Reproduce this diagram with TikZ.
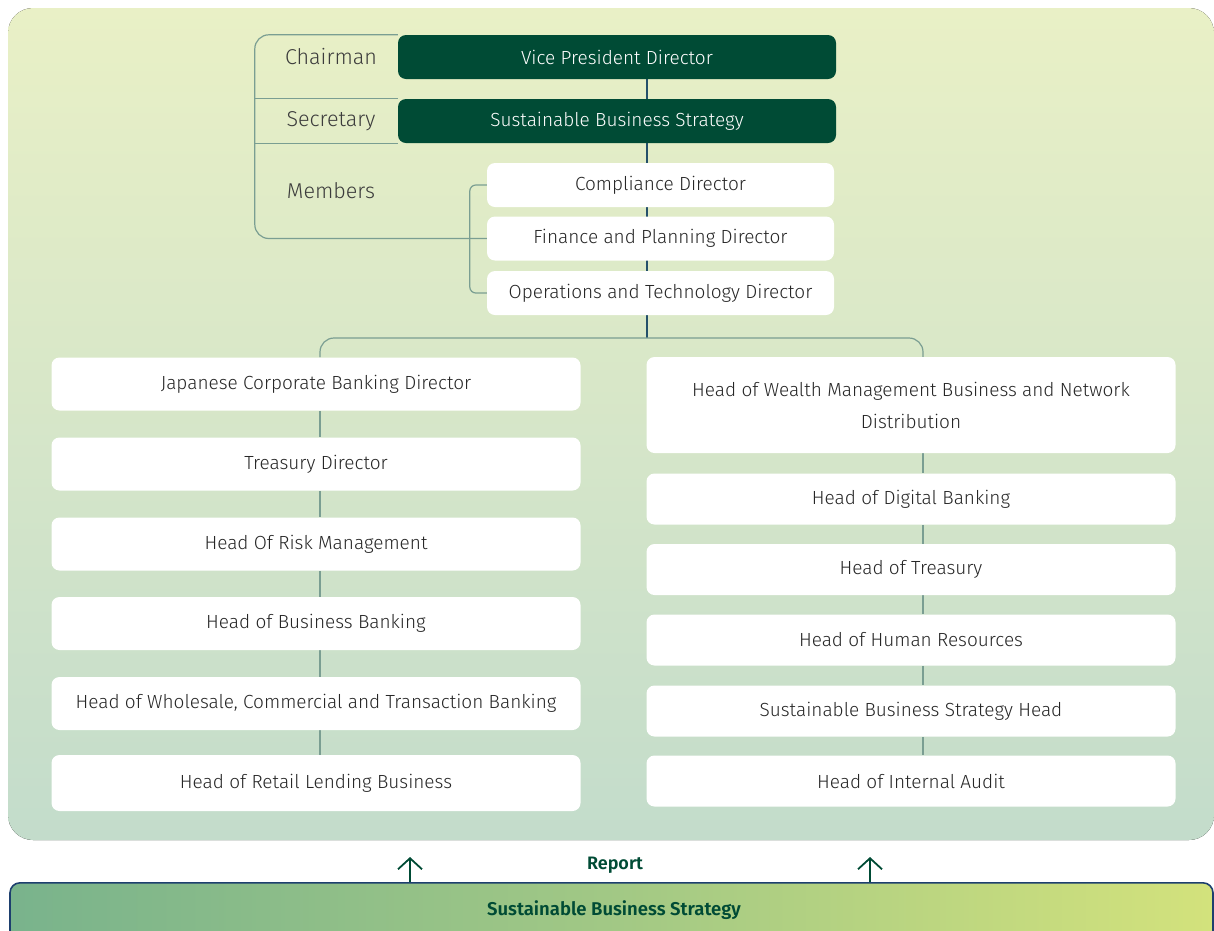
\documentclass[tikz,border=0pt]{standalone}
\usepackage{fontspec}
\setmainfont{Fira Sans}[UprightFont={* Light}, BoldFont={* SemiBold}]
\usepackage{xcolor}
\usetikzlibrary{positioning, backgrounds, arrows.meta}
\definecolor{paneltop}{HTML}{E9F0C6}
\definecolor{panelbot}{HTML}{C3DCCB}
\definecolor{deepgreen}{HTML}{004B35}
\definecolor{navyline}{HTML}{24506A}
\definecolor{brkline}{HTML}{7A9E92}
\definecolor{barleft}{HTML}{79B38C}
\definecolor{barright}{HTML}{D3E27C}
\definecolor{barborder}{HTML}{1D3F6E}
\definecolor{txt}{HTML}{262626}
\tikzset{
  darkbox/.style={fill=deepgreen, text=white, rounded corners=8pt, minimum width=438pt,
    minimum height=44pt, inner sep=0pt, font=\fontsize{19}{22}\selectfont},
  topbox/.style={fill=white, text=txt, rounded corners=8pt, minimum width=347pt,
    minimum height=44pt, inner sep=0pt, font=\fontsize{19}{22}\selectfont},
  whitebox/.style={fill=white, text=txt, rounded corners=8pt, minimum width=529pt,
    minimum height=53pt, inner sep=0pt, align=center, font=\fontsize{19}{32}\selectfont},
  rolelbl/.style={text=txt!90, font=\fontsize{21.5}{25}\selectfont},
  conn/.style={draw=navyline, line width=1.2pt},
  brk/.style={draw=brkline, line width=1.2pt},
  reparrow/.style={draw=deepgreen, line width=1.8pt,
    -{Straight Barb[length=11pt, width=24pt, line width=1.8pt]}}
}
\begin{document}
\begin{tikzpicture}[x=1pt, y=-1pt]
\useasboundingbox (0,0) rectangle (1214,930);

% committee
\node[darkbox] (vpd) at (617,57)  {Vice President Director};
\node[darkbox] (sbs) at (617,121) {Sustainable Business Strategy};
\node[topbox] (comp) at (660.5,185)   {Compliance Director};
\node[topbox] (fin)  at (660.5,238.5) {Finance and Planning Director};
\node[topbox] (ops)  at (660.5,293)   {Operations and Technology Director};
\node[rolelbl] (chair) at (331,57)  {Chairman};
\node[rolelbl] (secr)  at (331,121) {Secretary};
\node[rolelbl] (memb)  at (331,191) {Members};
\coordinate (split) at (647,338);

% left column
\node[whitebox] (l1) at (316,384)   {Japanese Corporate Banking Director};
\node[whitebox] (l2) at (316,464)   {Treasury Director};
\node[whitebox] (l3) at (316,544)   {Head Of Risk Management};
\node[whitebox] (l4) at (316,623.5) {Head of Business Banking};
\node[whitebox] (l5) at (316,703.5) {Head of Wholesale, Commercial and Transaction Banking};
\node[whitebox, minimum height=56pt] (l6) at (316,783) {Head of Retail Lending Business};

% right column
\node[whitebox, minimum height=96pt] (r1) at (911,405)
  {Head of Wealth Management Business and Network\\Distribution};
\node[whitebox, minimum height=51pt] (r2) at (911,499)   {Head of Digital Banking};
\node[whitebox, minimum height=51pt] (r3) at (911,569.5) {Head of Treasury};
\node[whitebox, minimum height=51pt] (r4) at (911,640)   {Head of Human Resources};
\node[whitebox, minimum height=51pt] (r5) at (911,711)   {Sustainable Business Strategy Head};
\node[whitebox, minimum height=51pt] (r6) at (911,781)   {Head of Internal Audit};

% report bar
\node[draw=barborder, line width=1.6pt, rounded corners=10pt, left color=barleft,
  right color=barright, middle color=barleft!55!barright, minimum width=1203pt,
  minimum height=70pt, inner sep=0pt, anchor=north] (bar) at (611.5,882) {};
\node[text=deepgreen, font=\fontsize{18.5}{22}\selectfont\bfseries] (barlbl) at (614,910)
  {Sustainable Business Strategy};
\node[text=deepgreen, font=\fontsize{18}{22}\selectfont\bfseries] (report) at (615,865) {Report};
\coordinate (ar1) at (410,857);
\coordinate (ar2) at (870,857);
\draw[reparrow] (bar.north -| ar1) -- (ar1);
\draw[reparrow] (bar.north -| ar2) -- (ar2);

\begin{scope}[on background layer]
  \fill[top color=paneltop, bottom color=panelbot, rounded corners=25pt]
    (8,8) rectangle (1214,840);
  % connectors
  \draw[conn] (vpd.south -| split) -- (split);
  \draw[brk, rounded corners=14pt] (vpd.north west) -- ++(-143,0) |- (fin.west);
  \draw[brk] (sbs.north west) -- ++(-143,0);
  \draw[brk] (sbs.south west) -- ++(-143,0);
  \draw[brk, rounded corners=6pt] (comp.west) -- ++(-17,0) |- (ops.west);
  \draw[brk, rounded corners=14pt] (l1.north -| 320,0) -- (320,338) -- (923,338) -- (r1.north -| 923,0);
  \foreach \a/\b in {l1/l2, l2/l3, l3/l4, l4/l5, l5/l6}
    \draw[brk] (\a.south -| 320,0) -- (\b.north -| 320,0);
  \foreach \a/\b in {r1/r2, r2/r3, r3/r4, r4/r5, r5/r6}
    \draw[brk] (\a.south -| 923,0) -- (\b.north -| 923,0);
\end{scope}
\end{tikzpicture}
\end{document}
